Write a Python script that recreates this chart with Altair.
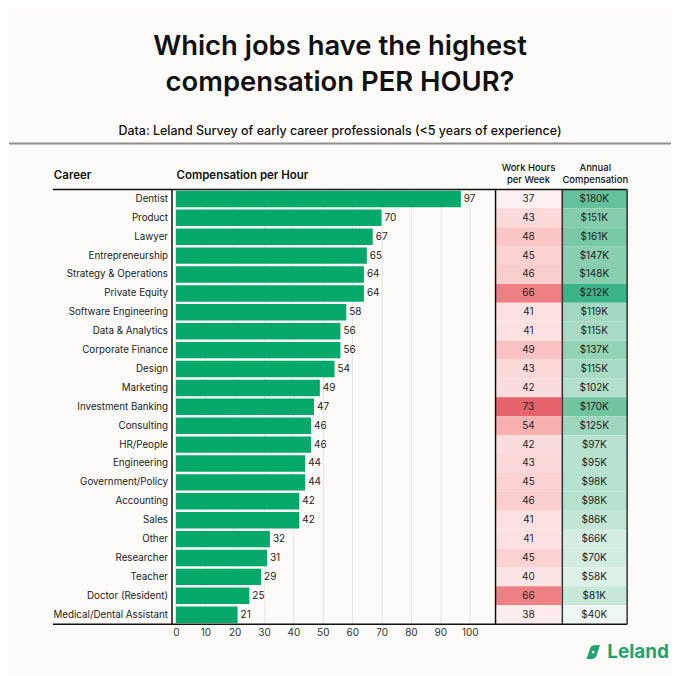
import altair as alt
import pandas as pd

careers = ["Dentist", "Product", "Lawyer", "Entrepreneurship", "Strategy & Operations",
           "Private Equity", "Software Engineering", "Data & Analytics", "Corporate Finance",
           "Design", "Marketing", "Investment Banking", "Consulting", "HR/People",
           "Engineering", "Government/Policy", "Accounting", "Sales", "Other",
           "Researcher", "Teacher", "Doctor (Resident)", "Medical/Dental Assistant"]
comp_per_hour = [97, 70, 67, 65, 64, 64, 58, 56, 56, 54, 49, 47, 46, 46, 44, 44, 42, 42, 32, 31, 29, 25, 21]
hours_per_week = [37, 43, 48, 45, 46, 66, 41, 41, 49, 43, 42, 73, 54, 42, 43, 45, 46, 41, 41, 45, 40, 66, 38]
annual_k = [180, 151, 161, 147, 148, 212, 119, 115, 137, 115, 102, 170, 125, 97, 95, 98, 98, 86, 66, 70, 58, 81, 40]
x_ticks = [0, 10, 20, 30, 40, 50, 60, 70, 80, 90, 100]

FONT = "Inter"
GREEN = "#07a96b"

df = pd.DataFrame({
    "career": careers,
    "cph": comp_per_hour,
    "hours": hours_per_week,
    "annual": annual_k,
})
df["annual_label"] = ["$" + str(v) + "K" for v in annual_k]
df["hcol"] = "Work Hours"
df["acol"] = "Annual"

W, H = 457, 436

y_enc = alt.Y("career:N", sort=careers,
              scale=alt.Scale(domain=careers, paddingInner=0, paddingOuter=0),
              axis=alt.Axis(title=None, ticks=False, domain=True, domainColor="#111",
                            domainWidth=1.5, labelFont=FONT, labelFontSize=9.8,
                            labelColor="#222", labelPadding=4))

x_bar_scale = alt.Scale(domain=[-1.5, 108.8], range=[0, 325], nice=False, zero=False)
x_heat_scale = alt.Scale(domain=["Work Hours", "Annual"], range=[325, 457],
                         paddingInner=0, paddingOuter=0)

base = alt.Chart(df)

bars = base.mark_bar(color=GREEN, height=alt.RelativeBandSize(0.87)).encode(
    x=alt.X("cph:Q", scale=x_bar_scale,
            axis=alt.Axis(title=None, values=x_ticks, grid=True, gridColor="#e4e4e4",
                          gridWidth=1, ticks=False, domain=False, labelFont=FONT,
                          labelFontSize=10, labelColor="#333", labelPadding=3)),
    y=y_enc,
)
bar_text = base.mark_text(align="left", dx=3, font=FONT, fontSize=10, color="#222").encode(
    x=alt.X("cph:Q", scale=x_bar_scale, axis=None),
    y=y_enc,
    text="cph:Q",
)

hours_rect = base.mark_rect().encode(
    x=alt.X("hcol:N", scale=x_heat_scale, axis=None),
    y=y_enc,
    color=alt.Color("hours:Q", scale=alt.Scale(domain=[37, 73], range=["#fdf0f0", "#e5636a"]),
                    legend=None),
)
hours_text = base.mark_text(font=FONT, fontSize=10, color="#222").encode(
    x=alt.X("hcol:N", scale=x_heat_scale, axis=None),
    y=y_enc,
    text="hours:Q",
)
annual_rect = base.mark_rect().encode(
    x=alt.X("acol:N", scale=x_heat_scale, axis=None),
    y=y_enc,
    color=alt.Color("annual:Q", scale=alt.Scale(domain=[40, 212], range=["#eef8f3", "#3bb487"]),
                    legend=None),
)
annual_text = base.mark_text(font=FONT, fontSize=10, color="#222").encode(
    x=alt.X("acol:N", scale=x_heat_scale, axis=None),
    y=y_enc,
    text="annual_label:N",
)

one = pd.DataFrame({"k": [0]})


def rule(x1, x2, y1, y2, color, width):
    return alt.Chart(one).mark_rule(color=color, strokeWidth=width).encode(
        x=alt.value(x1), x2=alt.value(x2), y=alt.value(y1), y2=alt.value(y2))


def label(text, x, y, size, weight, align="left", color="#111", line_height=12.5):
    return alt.Chart(one).mark_text(text=text, font=FONT, fontSize=size, fontWeight=weight,
                                    align=align, baseline="middle", color=color,
                                    lineHeight=line_height).encode(
        x=alt.value(x), y=alt.value(y))


gray_rule = rule(-163, 501, -46, -46, "#8f8f8f", 2)
top_rule = rule(-119, W, 0, 0, "#111", 1.5)
bottom_rule = rule(-119, W, H, H, "#111", 1.5)
v1 = rule(325, 325, 0, H, "#111", 1.5)
v2 = rule(392, 392, 0, H, "#333", 1.5)
v3 = rule(457, 457, 0, H, "#333", 1.5)

h_career = label("Career", -118, -13, 11.5, 600)
h_comp = label("Compensation per Hour", 5, -13, 11.5, 600)
h_hours = label(["Work Hours", "per Week"], 358, -22, 9.5, 500, align="center")
h_annual = label(["Annual", "Compensation"], 425, -22, 9.5, 500, align="center")

logo_text = label("Leland", 437, 464, 19, 700, color="#1fa46d")
logo_icon = alt.Chart(one).mark_point(
    shape="M -0.95 1 L -0.45 -0.55 Q -0.3 -0.95 0.1 -0.97 L 0.95 -1 L 0.45 0.55 Q 0.3 0.95 -0.1 0.97 Z",
    filled=True, color="#1fa46d", opacity=1, size=200).encode(
    x=alt.value(423), y=alt.value(464))
logo_dot = alt.Chart(one).mark_point(shape="circle", filled=True, color="#fcfbf9",
                                     opacity=1, size=7).encode(
    x=alt.value(423), y=alt.value(464))

chart = alt.layer(
    gray_rule, bars, bar_text, hours_rect, hours_text, annual_rect, annual_text,
    top_rule, bottom_rule, v1, v2, v3,
    h_career, h_comp, h_hours, h_annual, logo_icon, logo_dot, logo_text,
).resolve_scale(
    x="independent", color="independent"
).properties(
    width=W, height=H,
    padding={"left": 0, "top": 24, "right": 0, "bottom": 12},
    background="#fcfbf9",
    title=alt.TitleParams(
        text=["Which jobs have the highest", "compensation PER HOUR?"],
        subtitle="Data: Leland Survey of early career professionals (<5 years of experience)",
        anchor="middle", frame="bounds", font=FONT, fontSize=27.5, fontWeight=600,
        lineHeight=36, color="#111", subtitleFont=FONT, subtitleFontSize=12.5,
        subtitleFontWeight=500, subtitleColor="#111", subtitlePadding=29, offset=5,
    ),
).configure_view(stroke=None)

chart.save("out.html", embed_options={"renderer": "svg", "actions": False})
